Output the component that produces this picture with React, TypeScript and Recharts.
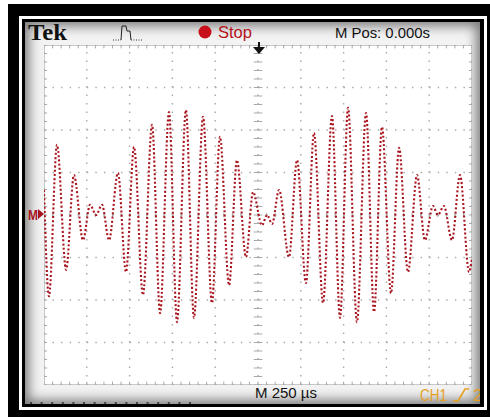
import React from 'react';
import { LineChart, Line, XAxis, YAxis, ReferenceLine } from 'recharts';

const TIME_US = [0, 29, 76, 129, 175, 228, 269, 304, 339, 380, 432, 479, 526, 578, 631, 678, 730, 777, 829, 876, 929, 981, 1028, 1081, 1127, 1180, 1221, 1273, 1303, 1332, 1373, 1431, 1478, 1530, 1577, 1630, 1682, 1729, 1776, 1828, 1881, 1928, 1974, 2027, 2074, 2126, 2179, 2225, 2272, 2301, 2336, 2383, 2430, 2483, 2500];
const CH1_DIV = [0.59, -1.91, 1.65, -1.29, 0.94, -0.59, 0.24, 0.0, 0.24, -0.59, 0.99, -1.34, 1.6, -1.88, 2.12, -2.31, 2.42, -2.52, 2.47, -2.42, 2.31, -2.07, 1.84, -1.65, 1.29, -0.99, 0.54, -0.24, 0.0, -0.21, 0.59, -0.99, 1.29, -1.6, 1.93, -2.07, 2.33, -2.42, 2.52, -2.52, 2.4, -2.28, 2.07, -1.84, 1.58, -1.34, 0.94, -0.59, 0.21, 0.0, 0.21, -0.59, 0.94, -1.34, -1.01];

const MAJOR_T = [0, 250, 500, 750, 1000, 1250, 1500, 1750, 2000, 2250, 2500];
const MAJOR_V = [-4, -3, -2, -1, 0, 1, 2, 3, 4];
const MINOR_T = Array.from({ length: 51 }, (_, i) => i * 50);
const MINOR_V = Array.from({ length: 41 }, (_, i) => Math.round((-4 + i * 0.2) * 10) / 10);

const data = TIME_US.map((t, i) => ({ t, v: CH1_DIV[i] }));

const PW = 428;
const PH = 340;
const GRID = '#a9a9a9';
const TRACE = '#a8141e';

const abs = (l: number, t: number, w: number, h: number, extra: React.CSSProperties = {}): React.CSSProperties => ({
  position: 'absolute', left: l, top: t, width: w, height: h, ...extra,
});

export default function App() {
  const dots = Array.from({ length: 16 }, (_, i) => i);
  return (
    <div style={abs(0, 0, 490, 419, { background: '#fff', overflow: 'hidden' })}>
      <div style={abs(8, 4, 490, 413, { background: '#000' })} />
      <div style={abs(19, 16, 468, 394, { background: '#fff' })} />
      <div style={abs(22, 19, 462, 388, { background: '#000' })} />
      <div
        style={abs(25, 22, 455, 382, {
          background: '#f3f3f3',
          boxShadow: 'inset 0 0 12px 4px rgba(0,0,0,0.5)',
          overflow: 'hidden',
        })}
      />
      <div style={abs(44, 45, PW, PH, { background: '#fff', border: '1px solid #c9c9c9', boxSizing: 'border-box' })} />
      <div style={abs(44, 45, PW, PH)}>
        <LineChart width={PW} height={PH} data={data} margin={{ top: 0, right: 0, bottom: 0, left: 0 }}>
          <XAxis dataKey="t" type="number" domain={[0, 2500]} ticks={MAJOR_T} height={0} axisLine={false} tickLine={false} tick={false} allowDataOverflow />
          <YAxis type="number" domain={[-4, 4]} ticks={MAJOR_V} width={0} axisLine={false} tickLine={false} tick={false} allowDataOverflow />
          {MAJOR_T.map((t) => (
            <ReferenceLine key={'gx' + t} x={t} stroke={GRID} strokeWidth={1.4} strokeDasharray="1.4 7.1" ifOverflow="extendDomain" />
          ))}
          {MAJOR_V.map((v) => (
            <ReferenceLine key={'gy' + v} y={v} stroke={GRID} strokeWidth={1.4} strokeDasharray="1.4 7.16" ifOverflow="extendDomain" />
          ))}
          {MINOR_T.map((t) => (
            <ReferenceLine key={'cx' + t} segment={[{ x: t, y: -0.05 }, { x: t, y: 0.05 }]} stroke={GRID} strokeWidth={1} />
          ))}
          {MINOR_T.map((t) => (
            <ReferenceLine key={'tx' + t} segment={[{ x: t, y: 4 }, { x: t, y: 3.92 }]} stroke={GRID} strokeWidth={1} />
          ))}
          {MINOR_T.map((t) => (
            <ReferenceLine key={'bx' + t} segment={[{ x: t, y: -4 }, { x: t, y: -3.92 }]} stroke={GRID} strokeWidth={1} />
          ))}
          {MINOR_V.map((v) => (
            <ReferenceLine key={'cy' + v} segment={[{ x: 1225, y: v }, { x: 1275, y: v }]} stroke={GRID} strokeWidth={1} />
          ))}
          {MINOR_V.map((v) => (
            <ReferenceLine key={'ly' + v} segment={[{ x: 0, y: v }, { x: 18, y: v }]} stroke={GRID} strokeWidth={1} />
          ))}
          {MINOR_V.map((v) => (
            <ReferenceLine key={'ry' + v} segment={[{ x: 2482, y: v }, { x: 2500, y: v }]} stroke={GRID} strokeWidth={1} />
          ))}
          <Line
            dataKey="v"
            type="monotone"
            stroke={TRACE}
            strokeWidth={2.1}
            strokeDasharray="2 2.2"
            dot={false}
            isAnimationActive={false}
          />
        </LineChart>
      </div>
      <svg width={490} height={419} style={{ position: 'absolute', left: 0, top: 0, pointerEvents: 'none' }}>
        <text x={28} y={40} fontFamily="Liberation Serif" fontWeight="bold" fontSize={23} fill="#111" textLength={39} lengthAdjust="spacingAndGlyphs">Tek</text>
        <path d="M113,40 L121,40" stroke="#333" strokeWidth={1} strokeDasharray="1 1.5" />
        <path d="M121,40 L122,26 L126,26 L127,31 L130,31 L131,40" stroke="#222" strokeWidth={1} fill="none" />
        <path d="M131,40 L143,40" stroke="#333" strokeWidth={1} strokeDasharray="1 1.5" />
        <circle cx={205} cy={32} r={6.5} fill="#c8101a" />
        <text x={218} y={38} fontFamily="Liberation Sans" fontSize={17} fill="#b5121b" textLength={34} lengthAdjust="spacingAndGlyphs">Stop</text>
        <text x={335} y={38} fontFamily="Liberation Sans" fontSize={15} fill="#111" textLength={95} lengthAdjust="spacingAndGlyphs">M Pos: 0.000s</text>
        <rect x={258} y={42} width={2} height={6} fill="#111" />
        <path d="M253,47 L265,47 L259,54 Z" fill="#111" />
        <text x={28} y={220} fontFamily="Liberation Sans" fontWeight="bold" fontSize={14} fill={TRACE} textLength={10} lengthAdjust="spacingAndGlyphs">M</text>
        <path d="M38,209 L44,214 L38,219 Z" fill={TRACE} />
        <text x={255} y={398} fontFamily="Liberation Sans" fontSize={15} fill="#111" textLength={62} lengthAdjust="spacingAndGlyphs">M 250 µs</text>
        <text x={420} y={401} fontFamily="Liberation Sans" fontSize={17} fill="#e6a01e" textLength={27} lengthAdjust="spacingAndGlyphs">CH1</text>
        <path d="M453,401 L458,401 L465,389 L469,389" stroke="#e6a01e" strokeWidth={1.6} fill="none" />
        <text x={473} y={401} fontFamily="Liberation Sans" fontSize={17} fill="#e6a01e">2</text>
        {dots.map((i) => (
          <rect key={i} x={30 + i * 10.6} y={402} width={2} height={2} fill="#444" />
        ))}
        <rect x={480} y={19} width={4} height={388} fill="#000" />
        <rect x={484} y={16} width={3} height={394} fill="#fff" />
        <rect x={487} y={4} width={3} height={413} fill="#000" />
      </svg>
    </div>
  );
}
